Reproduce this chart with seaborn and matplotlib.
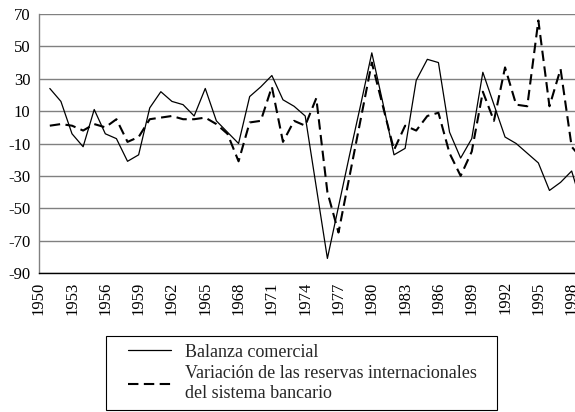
import matplotlib
matplotlib.use("Agg")
import matplotlib.pyplot as plt
from matplotlib.legend_handler import HandlerLine2D
import pandas as pd
import seaborn as sns

years = list(range(1951, 2000))
balanza = [24, 16, -4, -12, 11, -4, -7, -21, -17, 12,
           22, 16, 14, 7, 24, 4, -3, -10, 19, 25,
           32, 17, 13, 7, -37, -81, -49, -17, 14, 46,
           15, -17, -13, 29, 42, 40, -3, -19, -7, 34,
           14, -6, -10, -16, -22, -39, -34, -27, -50]
reservas = [1, 2, 1, -2, 2, 0, 5, -9, -6, 5,
            6, 7, 5, 5, 6, 2, -4, -21, 3, 4,
            25, -9, 4, 1, 18, -40, -65, -30, 5, 40,
            13, -14, 1, -2, 7, 9, -16, -30, -15, 22,
            4, 37, 14, 13, 66, 13, 36, -12, -20]
x_ticks = list(range(1950, 1999, 3))
y_ticks = list(range(-90, 71, 20))
label_balanza = "Balanza comercial"
label_reservas = "Variación de las reservas internacionales\ndel sistema bancario"

sns.set_theme(style="white")
plt.rcParams['font.family'] = ['Liberation Serif', 'DejaVu Serif']
plt.rcParams['axes.unicode_minus'] = False

W, H = 575, 412
fig = plt.figure(figsize=(W / 100, H / 100), dpi=100)
left_px, top_px, bottom_px = 38.7, 14, 273
ax = fig.add_axes([left_px / W, 1 - bottom_px / H, 1 - left_px / W, (bottom_px - top_px) / H])

df = pd.DataFrame({"year": years, "balanza": balanza, "reservas": reservas})
sns.lineplot(data=df, x="year", y="balanza", ax=ax, color="black", lw=0.9,
             label=label_balanza)
sns.lineplot(data=df, x="year", y="reservas", ax=ax, color="black", lw=1.5,
             linestyle=(0, (5.0, 2.6)), label=label_reservas)

ax.set_xlim(1950, 1998.3)
ax.set_ylim(-90, 70)
ax.set_xticks(x_ticks)
ax.set_xticklabels([str(t) for t in x_ticks], rotation=90)
ax.set_yticks(y_ticks)
ax.set_yticklabels([str(t) for t in y_ticks])
ax.set_xlabel("")
ax.set_ylabel("")

ax.yaxis.grid(True, color="#808080", lw=1.0)
ax.xaxis.grid(False)
ax.set_axisbelow(True)
for s in ["top", "right"]:
    ax.spines[s].set_visible(False)
ax.spines["left"].set_color("#808080")
ax.spines["left"].set_linewidth(1.0)
ax.spines["bottom"].set_color("black")
ax.spines["bottom"].set_linewidth(1.0)
ax.tick_params(axis="y", which="major", length=4, width=1, color="#808080",
               direction="out", pad=2, labelsize=12, labelcolor="black")
ax.tick_params(axis="x", which="major", length=0, pad=6, labelsize=12,
               labelcolor="black")

handles, labels = ax.get_legend_handles_labels()
ax.get_legend().remove()
leg_fs = 13
leg = fig.legend(handles, labels, loc="upper left",
                 bbox_to_anchor=(106 / W, 0, 391 / W, 1 - 336 / H),
                 mode="expand", frameon=True, fancybox=False, shadow=False,
                 edgecolor="black", framealpha=1, fontsize=leg_fs,
                 handlelength=3.2, handletextpad=0.78, borderpad=0.42,
                 labelspacing=0.25, borderaxespad=0,
                 handler_map={h: HandlerLine2D(xpad=0.82) for h in handles})
for t in leg.get_texts():
    t.set_linespacing(1.25)
leg.get_frame().set_linewidth(0.8)

fig.savefig("out.png", dpi=100)
